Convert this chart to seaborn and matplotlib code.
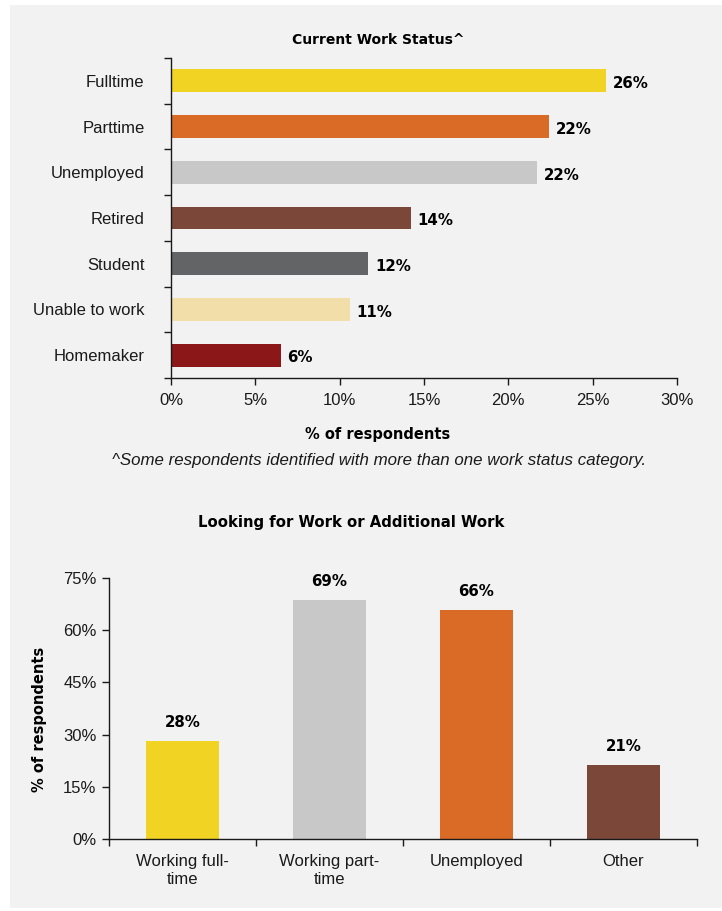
import matplotlib
matplotlib.use("Agg")
import matplotlib.pyplot as plt
import seaborn as sns
import pandas as pd
from matplotlib.patches import Rectangle
from matplotlib.ticker import FixedLocator, FuncFormatter

# ---------------- data ----------------
status_categories = ["Fulltime", "Parttime", "Unemployed", "Retired", "Student",
                     "Unable to work", "Homemaker"]
status_values = [25.8, 22.4, 21.7, 14.2, 11.7, 10.6, 6.5]
status_labels = ["26%", "22%", "22%", "14%", "12%", "11%", "6%"]
status_colors = ["#F0D323", "#D96B27", "#C8C8C9", "#7A4738", "#636466",
                 "#F2DEA8", "#8C1718"]

looking_categories = ["Working full-\ntime", "Working part-\ntime", "Unemployed", "Other"]
looking_values = [28.2, 68.7, 65.8, 21.3]
looking_labels = ["28%", "69%", "66%", "21%"]
looking_colors = ["#F0D323", "#C8C8C9", "#D96B27", "#7A4738"]

x_ticks_top = [0, 5, 10, 15, 20, 25, 30]
y_ticks_bottom = [0, 15, 30, 45, 60, 75]

# ---------------- style ----------------
sns.set_style("white")
plt.rcParams["font.family"] = ["Liberation Sans", "DejaVu Sans"]
BOLD = ["DejaVu Sans"]
BG = "#F2F2F2"
INK = "#1a1a1a"
TICK_FS = 12

W, H = 722, 911
fig = plt.figure(figsize=(W / 100, H / 100), dpi=100, facecolor="white")
fig.patches.append(Rectangle((10 / W, 3 / H), (W - 10) / W, (H - 8) / H,
                             transform=fig.transFigure, facecolor=BG,
                             edgecolor="none", zorder=-10))

def fx(px):
    return px / W

def fy(py):
    return 1 - py / H

# ---------------- top chart ----------------
ax1 = fig.add_axes([fx(171), fy(378), fx(677) - fx(171), fy(58) - fy(378)])
ax1.set_facecolor(BG)
df1 = pd.DataFrame({"cat": status_categories, "val": status_values})
sns.barplot(data=df1, x="val", y="cat", hue="cat", palette=status_colors,
            legend=False, width=0.5, ax=ax1, orient="h", saturation=1, linewidth=0)
ax1.set_xlim(0, 30)
ax1.set_ylim(len(status_categories) - 0.5, -0.5)
ax1.xaxis.set_major_locator(FixedLocator(x_ticks_top))
ax1.xaxis.set_major_formatter(FuncFormatter(lambda v, p: f"{v:.0f}%"))
ax1.set_yticks(range(len(status_categories)))
ax1.set_yticklabels(status_categories)
ax1.yaxis.set_minor_locator(FixedLocator([i - 0.5 for i in range(len(status_categories) + 1)]))
ax1.tick_params(axis="y", which="major", length=0, pad=19, labelsize=TICK_FS, labelcolor=INK)
ax1.tick_params(axis="y", which="minor", length=5, width=1, color=INK, direction="out", left=True)
ax1.tick_params(axis="x", which="major", length=5, width=1, color=INK, direction="out",
                bottom=True, labelsize=TICK_FS, labelcolor=INK, pad=6)
for s in ["top", "right"]:
    ax1.spines[s].set_visible(False)
for s in ["left", "bottom"]:
    ax1.spines[s].set_color(INK)
    ax1.spines[s].set_linewidth(1)
ax1.set_xlabel("")
ax1.set_ylabel("")
for i, (v, lab) in enumerate(zip(status_values, status_labels)):
    ax1.annotate(lab, (v, i), xytext=(5, -2), textcoords="offset points",
                 ha="left", va="center", fontsize=10.8, fontweight="bold",
                 family=BOLD, color="black")

fig.text(fx(378), fy(40), "Current Work Status^", ha="center", va="center",
         fontsize=10, fontweight="bold", family=BOLD, color="black")
fig.text(fx(378), fy(435), "% of respondents", ha="center", va="center",
         fontsize=10.5, fontweight="bold", family=BOLD, color="black")
fig.text(fx(379), fy(460), "^Some respondents identified with more than one work status category.",
         ha="center", va="center", fontsize=12.2, style="italic", color=INK)

# ---------------- bottom chart ----------------
ax2 = fig.add_axes([fx(109), fy(839), fx(697) - fx(109), fy(578) - fy(839)])
ax2.set_facecolor(BG)
df2 = pd.DataFrame({"cat": looking_categories, "val": looking_values})
sns.barplot(data=df2, x="cat", y="val", hue="cat", palette=looking_colors,
            legend=False, width=0.5, ax=ax2, saturation=1, linewidth=0)
ax2.set_ylim(0, 75)
ax2.set_xlim(-0.5, len(looking_categories) - 0.5)
ax2.yaxis.set_major_locator(FixedLocator(y_ticks_bottom))
ax2.yaxis.set_major_formatter(FuncFormatter(lambda v, p: f"{v:.0f}%"))
ax2.set_xticks(range(len(looking_categories)))
ax2.set_xticklabels(looking_categories, linespacing=1.25)
ax2.xaxis.set_minor_locator(FixedLocator([i - 0.5 for i in range(len(looking_categories) + 1)]))
ax2.tick_params(axis="x", which="major", length=0, pad=11, labelsize=TICK_FS, labelcolor=INK)
ax2.tick_params(axis="x", which="minor", length=5, width=1, color=INK, direction="out", bottom=True)
ax2.tick_params(axis="y", which="major", length=5, width=1, color=INK, direction="out",
                left=True, labelsize=TICK_FS, labelcolor=INK, pad=4)
for s in ["top", "right"]:
    ax2.spines[s].set_visible(False)
for s in ["left", "bottom"]:
    ax2.spines[s].set_color(INK)
    ax2.spines[s].set_linewidth(1)
ax2.set_xlabel("")
ax2.set_ylabel("")
for i, (v, lab) in enumerate(zip(looking_values, looking_labels)):
    ax2.annotate(lab, (i, v), xytext=(0, 8), textcoords="offset points",
                 ha="center", va="bottom", fontsize=10.8, fontweight="bold",
                 family=BOLD, color="black")

fig.text(fx(351), fy(523), "Looking for Work or Additional Work", ha="center", va="center",
         fontsize=10.7, fontweight="bold", family=BOLD, color="black")
fig.text(fx(40), fy(719), "% of respondents", ha="center", va="center", rotation=90,
         fontsize=10.5, fontweight="bold", family=BOLD, color="black")

fig.savefig("out.png", dpi=100, facecolor="white")
